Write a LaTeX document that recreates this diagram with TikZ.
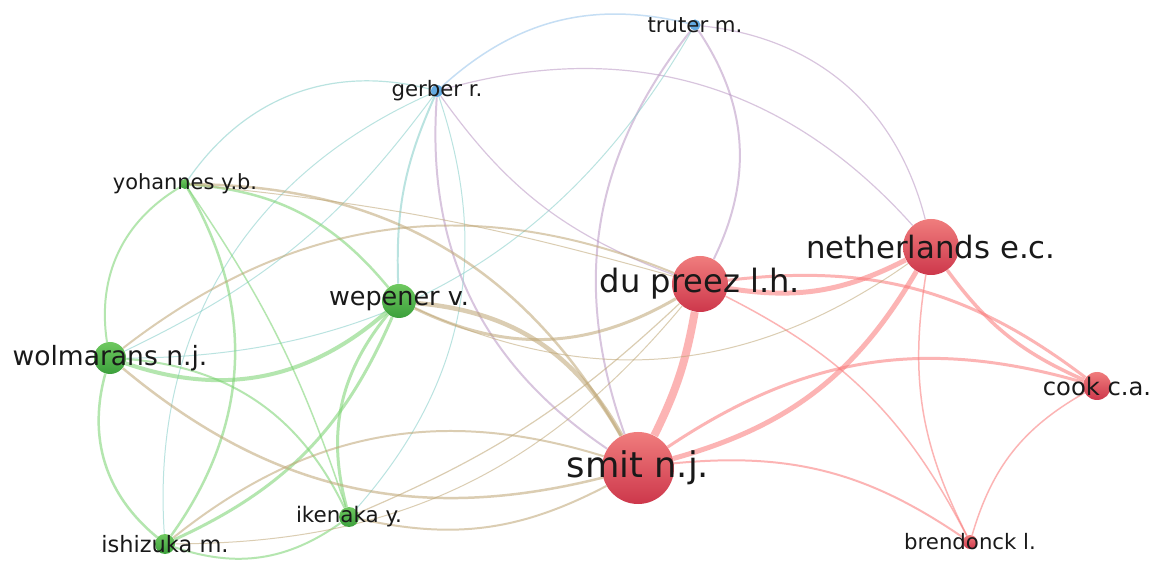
\documentclass[tikz,border=0pt]{standalone}
\usepackage{fontspec}
\setmainfont{DejaVu Sans}
\usetikzlibrary{backgrounds}
\definecolor{redtop}{RGB}{240,125,125}
\definecolor{redbot}{RGB}{205,55,75}
\definecolor{greentop}{RGB}{110,200,95}
\definecolor{greenbot}{RGB}{60,160,60}
\definecolor{bluenode}{RGB}{100,170,225}
\definecolor{edgered}{RGB}{250,120,120}
\definecolor{edgegreen}{RGB}{120,210,110}
\definecolor{edgeblue}{RGB}{150,195,235}
\definecolor{edgeolive}{RGB}{190,165,115}
\definecolor{edgeplum}{RGB}{185,150,195}
\definecolor{edgeteal}{RGB}{130,205,200}
\definecolor{labeltext}{RGB}{25,25,25}
\begin{document}
\begin{tikzpicture}[x=0.02cm, y=-0.02cm,
    vdot/.style={circle, inner sep=0pt, minimum size=#1*0.02cm},
    rdot/.style={vdot=#1, top color=redtop, bottom color=redbot},
    gdot/.style={vdot=#1, top color=greentop, bottom color=greenbot},
    bdot/.style={vdot=#1, fill=bluenode},
    lbl/.style={font=\fontsize{#1}{#1}\selectfont, text=labeltext, inner sep=0pt},
    link/.style={line width=#1*0.567pt, draw opacity=0.55},
    er/.style={link=#1, draw=edgered}, eg/.style={link=#1, draw=edgegreen},
    eb/.style={link=#1, draw=edgeblue}, eo/.style={link=#1, draw=edgeolive},
    ep/.style={link=#1, draw=edgeplum}, et/.style={link=#1, draw=edgeteal}]
  \useasboundingbox (0,0) rectangle (1159,563);

  \node[bdot=11] (truter) at (695,25) [label={[lbl=12.1]center:truter m.}] {};
  \node[bdot=12] (gerber) at (437,91) [label={[lbl=12.1]center:gerber r.}] {};
  \node[gdot=10] (yoh) at (185,184) [label={[lbl=11.9]center:yohannes y.b.}] {};
  \node[gdot=34] (wep) at (399,301) [label={[lbl=14.5]center:wepener v.}] {};
  \node[gdot=32] (wolm) at (110,358) [label={[lbl=15.1]center:wolmarans n.j.}] {};
  \node[gdot=20] (iken) at (349,517) [label={[lbl=12.2]center:ikenaka y.}] {};
  \node[gdot=20] (ishi) at (165,544) [label={[lbl=12.8]center:ishizuka m.}] {};
  \node[rdot=72] (smit) at (638,468) [label={[lbl=20.1]center:smit n.j.}] {};
  \node[rdot=56] (dupreez) at (700,284) [label={[lbl=18.3]center:du preez l.h.}] {};
  \node[rdot=56] (neth) at (931,247) [label={[lbl=17.5]center:netherlands e.c.}] {};
  \node[rdot=28] (cook) at (1097,386) [label={[lbl=13.8]center:cook c.a.}] {};
  \node[rdot=14] (brend) at (970,542) [label={[lbl=12.1]center:brendonck l.}] {};

  \begin{pgfonlayer}{background}
    \fill[white] (0,0) rectangle (1159,563);
    \draw[er=8] (smit) to[bend right=8] (dupreez);
    \draw[er=5] (smit) to[bend right=22] (neth);
    \draw[er=3] (smit) to[bend left=25] (cook);
    \draw[er=2] (smit) to[bend left=20] (brend);
    \draw[er=5] (dupreez) to[bend right=18] (neth);
    \draw[er=3] (dupreez) to[bend left=22] (cook);
    \draw[er=1.5] (dupreez) to[bend left=18] (brend);
    \draw[er=3.5] (neth) to[bend right=15] (cook);
    \draw[er=1.5] (neth) to[bend right=18] (brend);
    \draw[er=1.5] (cook) to[bend right=22] (brend);

    \draw[eb=1.5] (gerber) to[bend left=28] (truter);
    \draw[ep=1.2] (gerber) to[bend left=32] (neth);
    \draw[ep=1.2] (truter) to[bend left=35] (neth);
    \draw[ep=2] (truter) to[bend left=30] (dupreez);
    \draw[ep=2] (truter) to[bend right=29] (smit);
    \draw[et=1] (truter) to[bend left=30] (wolm);
    \draw[ep=2] (gerber) to[bend right=30] (smit);
    \draw[ep=1.2] (gerber) to[bend right=17] (dupreez);
    \draw[et=1.2] (gerber) to[bend right=35] (yoh);
    \draw[et=1] (gerber) to[bend left=14] (wolm);
    \draw[et=2] (gerber) to[bend right=13] (wep);
    \draw[et=1] (gerber) to[bend right=35] (ishi);
    \draw[et=1] (gerber) to[bend left=30] (iken);

    \draw[eg=4] (wolm) to[bend right=30] (wep);
    \draw[eg=2] (yoh) to[bend right=34] (wolm);
    \draw[eg=2.5] (wolm) to[bend right=33] (ishi);
    \draw[eg=2] (wolm) to[bend left=30] (iken);
    \draw[eg=2.5] (yoh) to[bend left=33] (ishi);
    \draw[eg=1.5] (yoh) to[bend left=8] (iken);
    \draw[eg=2.5] (yoh) to[bend left=23] (wep);
    \draw[eg=3] (wep) to[bend right=27] (iken);
    \draw[eg=3] (wep) to[bend left=21] (ishi);
    \draw[eg=2] (iken) to[bend left=27] (ishi);

    \draw[eo=2.5] (wolm) to[bend right=27] (smit);
    \draw[eo=2] (wolm) to[bend left=30] (dupreez);
    \draw[eo=2.5] (yoh) to[bend left=30] (smit);
    \draw[eo=1] (yoh) to[bend left=5] (dupreez);
    \draw[eo=4.5] (wep) to[bend left=28] (smit);
    \draw[eo=3] (wep) to[bend right=28] (dupreez);
    \draw[eo=1] (wep) to[bend right=30] (neth);
    \draw[eo=2] (iken) to[bend right=20] (smit);
    \draw[eo=1.2] (iken) to[bend right=10] (dupreez);
    \draw[eo=2] (ishi) to[bend left=28] (smit);
    \draw[eo=1] (ishi) to[bend right=25] (dupreez);
  \end{pgfonlayer}
\end{tikzpicture}
\end{document}
